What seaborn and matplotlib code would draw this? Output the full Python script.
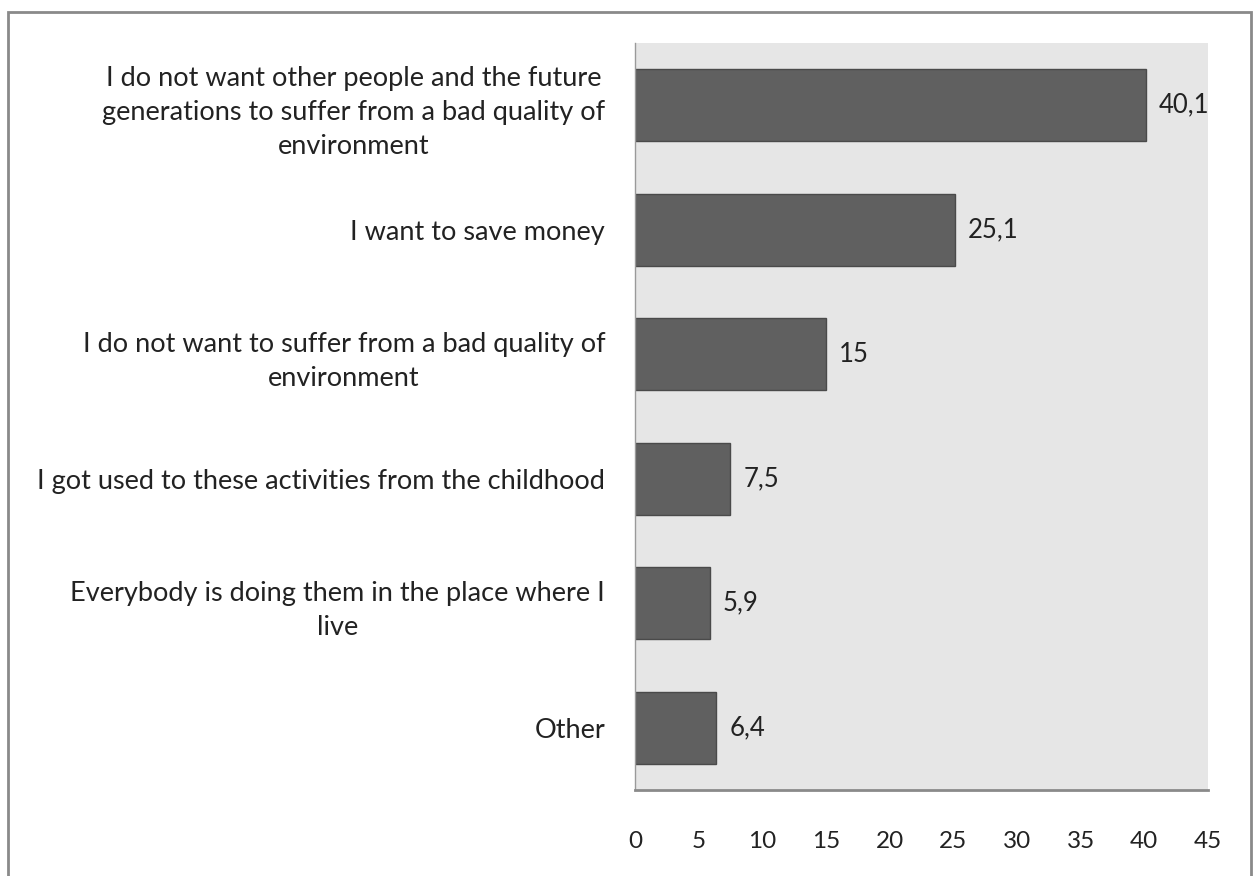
import matplotlib
matplotlib.use("Agg")
import matplotlib.pyplot as plt
import seaborn as sns
import pandas as pd
from matplotlib.patches import Rectangle

categories = [
    "I do not want other people and the future\ngenerations to suffer from a bad quality of\nenvironment",
    "I want to save money",
    "I do not want to suffer from a bad quality of\nenvironment",
    "I got used to these activities from the childhood",
    "Everybody is doing them in the place where I\nlive",
    "Other",
]
values = [40.1, 25.1, 15, 7.5, 5.9, 6.4]
value_labels = ["40,1", "25,1", "15", "7,5", "5,9", "6,4"]
xticks = [0, 5, 10, 15, 20, 25, 30, 35, 40, 45]

sns.set_theme(style="white")
plt.rcParams["font.family"] = ["Lato", "DejaVu Sans"]

df = pd.DataFrame({"cat": categories, "val": values})

fig = plt.figure(figsize=(12.53, 8.76), dpi=100)
ax = fig.add_axes([635 / 1253, 1 - 790 / 876, (1208 - 635) / 1253, (790 - 43) / 876])
ax.set_facecolor("#e6e6e6")

sns.barplot(data=df, x="val", y="cat", orient="h", color="#606060",
            saturation=1, width=0.575, edgecolor="#4a4a4a", linewidth=1, ax=ax)

ax.set_xlim(0, 45)
ax.set_ylim(5.5, -0.5)
ax.set_xticks(xticks)
ax.set_xticklabels([str(t) for t in xticks], fontsize=17.5, color="#222222")
ax.tick_params(axis="x", length=0, pad=29.5)
ax.tick_params(axis="y", length=0, pad=21.5)
for lbl in ax.get_yticklabels():
    lbl.set_fontsize(19.5)
    lbl.set_color("#222222")
    lbl.set_multialignment("center")
    lbl.set_linespacing(1.47)
ax.set_xlabel("")
ax.set_ylabel("")

for sp in ["top", "right"]:
    ax.spines[sp].set_visible(False)
ax.spines["left"].set_color("#9a9a9a")
ax.spines["left"].set_linewidth(1)
ax.spines["bottom"].set_color("#8a8a8a")
ax.spines["bottom"].set_linewidth(2)

for i, (v, t) in enumerate(zip(values, value_labels)):
    ax.text(v + 1.0, i, t, va="center", ha="left", fontsize=18.5, color="#222222")

# outer chart frame
fig.patches.append(Rectangle((8 / 1253, -0.05), (1251 - 8) / 1253, 1.05 - 12 / 876,
                             transform=fig.transFigure, fill=False,
                             edgecolor="#8a8a8a", linewidth=2))

fig.savefig("out.png", dpi=100)
